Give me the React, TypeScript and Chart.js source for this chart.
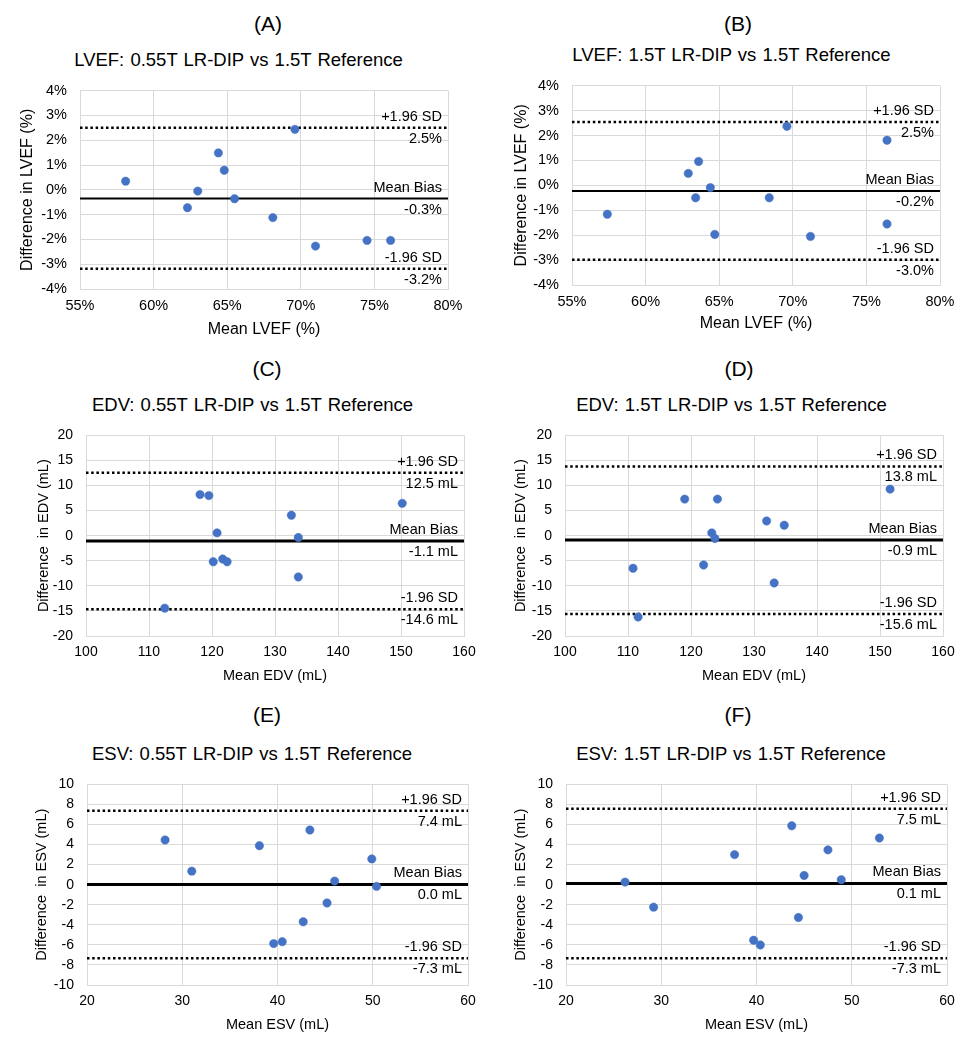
import React, { useEffect, useRef } from 'react';
import { Chart, registerables } from 'chart.js';

Chart.register(...registerables);

const FONT = '"Liberation Sans", Arial, sans-serif';

// ---------- Data ----------
// Panel A: LVEF 0.55T LR-DIP vs 1.5T Reference
const aMean = [58.1, 62.3, 63.0, 64.4, 64.8, 65.5, 68.1, 69.6, 71.0, 74.5, 76.1];
const aDiff = [0.35, -0.72, -0.05, 1.49, 0.79, -0.36, -1.12, 2.44, -2.27, -2.04, -2.04];
const aLimits = [2.51, -0.35, -3.18];
const aLimitLabels = ['2.5%', '-0.3%', '-3.2%'];

// Panel B: LVEF 1.5T LR-DIP vs 1.5T Reference
const bMean = [57.4, 62.9, 63.6, 63.4, 64.4, 64.7, 68.4, 69.6, 71.2, 76.4, 76.4];
const bDiff = [-1.16, 0.48, 0.96, -0.5, -0.09, -1.97, -0.5, 2.37, -2.05, 1.81, -1.55];
const bLimits = [2.54, -0.23, -2.99];
const bLimitLabels = ['2.5%', '-0.2%', '-3.0%'];

// Panel C: EDV 0.55T LR-DIP vs 1.5T Reference
const cMean = [112.5, 118.1, 119.5, 120.8, 120.2, 121.7, 122.4, 132.6, 133.7, 133.7, 150.2];
const cDiff = [-14.45, 8.2, 8.0, 0.56, -5.2, -4.66, -5.2, 4.07, -0.36, -8.23, 6.45];
const cLimits = [12.55, -1.05, -14.65];
const cLimitLabels = ['12.5 mL', '-1.1 mL', '-14.6 mL'];

// Panel D: EDV 1.5T LR-DIP vs 1.5T Reference
const dMean = [110.8, 111.6, 119.0, 122.0, 123.3, 123.8, 124.2, 132.0, 134.8, 133.2, 151.6];
const dDiff = [-6.5, -16.2, 7.3, -5.85, 0.56, -0.56, 7.3, 2.94, 2.08, -9.42, 9.29];
const dLimits = [13.82, -0.85, -15.6];
const dLimitLabels = ['13.8 mL', '-0.9 mL', '-15.6 mL'];

// Panel E: ESV 0.55T LR-DIP vs 1.5T Reference
const eMean = [28.2, 31.0, 38.1, 39.6, 40.5, 42.7, 43.4, 45.2, 46.0, 49.9, 50.4];
const eDiff = [4.46, 1.35, 3.89, -5.87, -5.68, -3.7, 5.45, -1.82, 0.36, 2.57, -0.17];
const eLimits = [7.38, 0.03, -7.33];
const eLimitLabels = ['7.4 mL', '0.0 mL', '-7.3 mL'];

// Panel F: ESV 1.5T LR-DIP vs 1.5T Reference
const fMean = [26.2, 29.2, 37.7, 39.7, 40.4, 43.7, 44.4, 45.0, 47.5, 48.9, 52.9];
const fDiff = [0.26, -2.24, 3.0, -5.54, -6.01, 5.87, -3.27, 0.92, 3.47, 0.5, 4.65];
const fLimits = [7.57, 0.12, -7.33];
const fLimitLabels = ['7.5 mL', '0.1 mL', '-7.3 mL'];

const limitNames = ['+1.96 SD', 'Mean Bias', '-1.96 SD'];

// Ticks
const lvefXTicks = [55, 60, 65, 70, 75, 80];
const lvefXLabels = ['55%', '60%', '65%', '70%', '75%', '80%'];
const lvefYTicks = [-4, -3, -2, -1, 0, 1, 2, 3, 4];
const lvefYLabels = ['-4%', '-3%', '-2%', '-1%', '0%', '1%', '2%', '3%', '4%'];
const edvXTicks = [100, 110, 120, 130, 140, 150, 160];
const edvXLabels = ['100', '110', '120', '130', '140', '150', '160'];
const edvYTicks = [-20, -15, -10, -5, 0, 5, 10, 15, 20];
const edvYLabels = ['-20', '-15', '-10', '-5', '0', '5', '10', '15', '20'];
const esvXTicks = [20, 30, 40, 50, 60];
const esvXLabels = ['20', '30', '40', '50', '60'];
const esvYTicks = [-10, -8, -6, -4, -2, 0, 2, 4, 6, 8, 10];
const esvYLabels = ['-10', '-8', '-6', '-4', '-2', '0', '2', '4', '6', '8', '10'];

// ---------- Panel definitions (layout kept separate from data) ----------
type PanelDef = {
  heading: string; title: string; xTitle: string; yTitle: string;
  mean: number[]; diff: number[]; limits: number[]; limitLabels: string[];
  xTicks: number[]; xLabels: string[]; yTicks: number[]; yLabels: string[];
  L: number; R: number; T: number; B: number; cx: number; cw: number;
  headX: number; headY: number; subX: number; subY: number;
  axisTitleSize: number; tickSize: number; biasWidth: number;
  yTitleX: number; xTitleY: number;
};

const panels: PanelDef[] = [
  { heading: '(A)', title: 'LVEF: 0.55T LR-DIP vs 1.5T Reference', xTitle: 'Mean LVEF (%)', yTitle: 'Difference in LVEF (%)',
    mean: aMean, diff: aDiff, limits: aLimits, limitLabels: aLimitLabels,
    xTicks: lvefXTicks, xLabels: lvefXLabels, yTicks: lvefYTicks, yLabels: lvefYLabels,
    L: 80, R: 448, T: 89, B: 289, cx: 0, cw: 485, headX: 268, headY: 23, subX: 238.5, subY: 60,
    axisTitleSize: 16, tickSize: 14.5, biasWidth: 2, yTitleX: 28, xTitleY: 329.3 },
  { heading: '(B)', title: 'LVEF: 1.5T LR-DIP vs 1.5T Reference', xTitle: 'Mean LVEF (%)', yTitle: 'Difference in LVEF (%)',
    mean: bMean, diff: bDiff, limits: bLimits, limitLabels: bLimitLabels,
    xTicks: lvefXTicks, xLabels: lvefXLabels, yTicks: lvefYTicks, yLabels: lvefYLabels,
    L: 572, R: 940, T: 84, B: 285, cx: 485, cw: 486, headX: 738, headY: 23, subX: 731.5, subY: 55,
    axisTitleSize: 16, tickSize: 14.5, biasWidth: 2, yTitleX: 521.7, xTitleY: 324 },
  { heading: '(C)', title: 'EDV: 0.55T LR-DIP vs 1.5T Reference', xTitle: 'Mean EDV (mL)', yTitle: 'Difference  in EDV (mL)',
    mean: cMean, diff: cDiff, limits: cLimits, limitLabels: cLimitLabels,
    xTicks: edvXTicks, xLabels: edvXLabels, yTicks: edvYTicks, yLabels: edvYLabels,
    L: 86, R: 464, T: 434, B: 636, cx: 0, cw: 485, headX: 267, headY: 368, subX: 252.5, subY: 405,
    axisTitleSize: 14.5, tickSize: 14, biasWidth: 3, yTitleX: 44, xTitleY: 676 },
  { heading: '(D)', title: 'EDV: 1.5T LR-DIP vs 1.5T Reference', xTitle: 'Mean EDV (mL)', yTitle: 'Difference  in EDV (mL)',
    mean: dMean, diff: dDiff, limits: dLimits, limitLabels: dLimitLabels,
    xTicks: edvXTicks, xLabels: edvXLabels, yTicks: edvYTicks, yLabels: edvYLabels,
    L: 565, R: 943, T: 434, B: 636, cx: 485, cw: 486, headX: 739, headY: 368, subX: 731.5, subY: 405,
    axisTitleSize: 14.5, tickSize: 14, biasWidth: 3, yTitleX: 520.7, xTitleY: 676 },
  { heading: '(E)', title: 'ESV: 0.55T LR-DIP vs 1.5T Reference', xTitle: 'Mean ESV (mL)', yTitle: 'Difference  in ESV (mL)',
    mean: eMean, diff: eDiff, limits: eLimits, limitLabels: eLimitLabels,
    xTicks: esvXTicks, xLabels: esvXLabels, yTicks: esvYTicks, yLabels: esvYLabels,
    L: 87, R: 468, T: 783, B: 985, cx: 0, cw: 485, headX: 267, headY: 714, subX: 252, subY: 754,
    axisTitleSize: 14.5, tickSize: 14, biasWidth: 3, yTitleX: 41.7, xTitleY: 1025 },
  { heading: '(F)', title: 'ESV: 1.5T LR-DIP vs 1.5T Reference', xTitle: 'Mean ESV (mL)', yTitle: 'Difference  in ESV (mL)',
    mean: fMean, diff: fDiff, limits: fLimits, limitLabels: fLimitLabels,
    xTicks: esvXTicks, xLabels: esvXLabels, yTicks: esvYTicks, yLabels: esvYLabels,
    L: 566, R: 947, T: 783, B: 985, cx: 485, cw: 486, headX: 738, headY: 714, subX: 731, subY: 754,
    axisTitleSize: 14.5, tickSize: 14, biasWidth: 3, yTitleX: 520.7, xTitleY: 1025 },
];

const TOP_PAD = 20;
const X_AXIS_H = 60;
const GRID = '#d9d9d9';
const TEXT = '#000';

const limitLabelPlugin = {
  id: 'limitLabels',
  afterDatasetsDraw(chart: any, _args: any, opts: any) {
    if (!opts || !opts.limits) return;
    const { ctx, chartArea, scales } = chart;
    ctx.save();
    ctx.font = `14.5px ${FONT}`;
    ctx.fillStyle = TEXT;
    ctx.textAlign = 'right';
    ctx.textBaseline = 'middle';
    const x = chartArea.right - opts.inset;
    opts.limits.forEach((v: number, i: number) => {
      const y = scales.y.getPixelForValue(v);
      ctx.fillText(limitNames[i], x, y - 11);
      ctx.fillText(opts.labels[i], x, y + 11);
    });
    ctx.restore();
  },
};

function ChartPanel({ p }: { p: PanelDef }) {
  const ref = useRef<HTMLCanvasElement | null>(null);
  const top = p.T - TOP_PAD;
  const height = p.B - p.T + TOP_PAD + X_AXIS_H;
  const yAxisW = p.L - p.cx;
  const padRight = p.cx + p.cw - p.R;

  useEffect(() => {
    if (!ref.current) return;
    const xMin = p.xTicks[0];
    const xMax = p.xTicks[p.xTicks.length - 1];
    const lh = p.axisTitleSize * 1.2;
    const yTitlePad = p.yTitleX - p.cx - lh / 2;
    const xTitlePad = (top + height) - lh / 2 - p.xTitleY;

    const lineDs = (v: number, solid: boolean) => ({
      data: [{ x: xMin, y: v }, { x: xMax, y: v }],
      showLine: true,
      pointRadius: 0,
      borderColor: '#000',
      borderWidth: solid ? p.biasWidth : 2.5,
      borderDash: solid ? [] : [2.5, 2.7],
      borderCapStyle: 'butt',
      fill: false,
    });

    const chart = new Chart(ref.current, {
      type: 'scatter',
      data: {
        datasets: [
          {
            data: p.mean.map((m, i) => ({ x: m, y: p.diff[i] })),
            pointRadius: 4.2,
            pointBackgroundColor: '#4472C4',
            pointBorderColor: '#4472C4',
            pointBorderWidth: 0.5,
          } as any,
          lineDs(p.limits[0], false),
          lineDs(p.limits[1], true),
          lineDs(p.limits[2], false),
        ],
      },
      options: {
        responsive: false,
        animation: false,
        devicePixelRatio: 1,
        layout: { padding: { top: TOP_PAD, right: padRight, left: 0, bottom: 0 } },
        plugins: {
          legend: { display: false },
          tooltip: { enabled: false },
          limitLabels: { limits: p.limits, labels: p.limitLabels, inset: 6 },
        } as any,
        scales: {
          x: {
            type: 'linear',
            min: xMin,
            max: xMax,
            afterBuildTicks: (s: any) => { s.ticks = p.xTicks.map((v) => ({ value: v })); },
            afterFit: (s: any) => { s.height = X_AXIS_H; },
            grid: { color: GRID, drawTicks: false, lineWidth: 1 },
            border: { display: true, color: GRID },
            ticks: {
              padding: 8,
              color: TEXT,
              font: { family: FONT, size: p.tickSize },
              maxRotation: 0,
              callback: (_v: any, i: number) => p.xLabels[i],
            },
            title: {
              display: true,
              text: p.xTitle,
              color: TEXT,
              font: { family: FONT, size: p.axisTitleSize },
              padding: { top: 0, bottom: xTitlePad },
            },
          },
          y: {
            type: 'linear',
            min: p.yTicks[0],
            max: p.yTicks[p.yTicks.length - 1],
            afterBuildTicks: (s: any) => { s.ticks = p.yTicks.map((v) => ({ value: v })); },
            afterFit: (s: any) => { s.width = yAxisW; },
            grid: { color: GRID, drawTicks: false, lineWidth: 1 },
            border: { display: true, color: GRID },
            ticks: {
              padding: 13,
              color: TEXT,
              font: { family: FONT, size: p.tickSize },
              callback: (_v: any, i: number) => p.yLabels[i],
            },
            title: {
              display: true,
              text: p.yTitle,
              color: TEXT,
              font: { family: FONT, size: p.axisTitleSize },
              padding: { top: yTitlePad, bottom: 0 },
            },
          },
        },
      } as any,
      plugins: [limitLabelPlugin],
    });
    return () => chart.destroy();
  }, []);

  return (
    <canvas
      ref={ref}
      width={p.cw}
      height={height}
      style={{ position: 'absolute', left: p.cx, top, width: p.cw, height }}
    />
  );
}

const centered = (x: number, y: number, size: number, extra: any = {}) => ({
  position: 'absolute' as const,
  left: x,
  top: y,
  transform: 'translate(-50%, -50%)',
  fontFamily: FONT,
  fontSize: size,
  lineHeight: 1,
  whiteSpace: 'nowrap' as const,
  color: TEXT,
  ...extra,
});

export default function App() {
  return (
    <div style={{ position: 'absolute', left: 0, top: 0, width: 971, height: 1050, background: '#fff', overflow: 'hidden' }}>
      {panels.map((p) => (
        <React.Fragment key={p.heading}>
          <div style={centered(p.headX, p.headY, 21)}>{p.heading}</div>
          <div style={centered(p.subX, p.subY, 18.5, { wordSpacing: '1px' })}>{p.title}</div>
          <ChartPanel p={p} />
        </React.Fragment>
      ))}
    </div>
  );
}
